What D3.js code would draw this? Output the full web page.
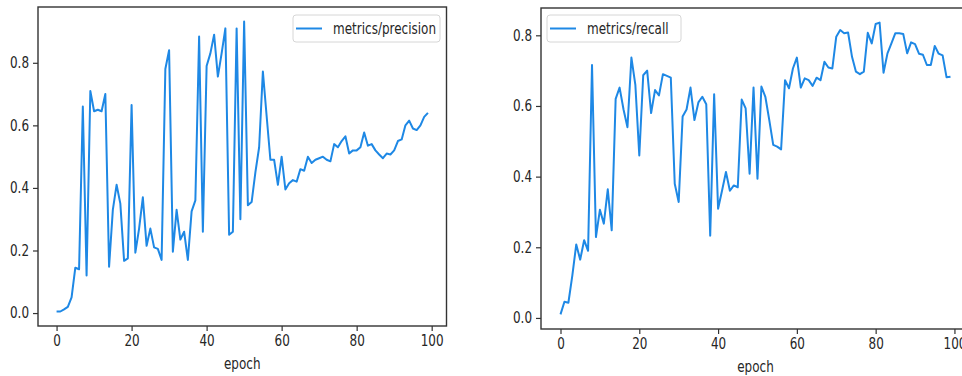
<!DOCTYPE html>
<html>
<head>
<meta charset="utf-8">
<script src="https://cdn.jsdelivr.net/npm/d3@7"></script>
<style>
  body { margin: 0; background: #fff; }
  svg { display: block; }
</style>
</head>
<body>
<div class="container"></div>
<script>
// epochs 0..99
const epochs = d3.range(100);

const precision = [
  0.005, 0.005, 0.012, 0.02, 0.05, 0.145, 0.14, 0.66, 0.12, 0.71,
  0.645, 0.65, 0.645, 0.70, 0.148, 0.33, 0.41, 0.35, 0.167, 0.175,
  0.665, 0.193, 0.27, 0.37, 0.215, 0.27, 0.21, 0.205, 0.17, 0.78,
  0.84, 0.196, 0.33, 0.235, 0.26, 0.17, 0.325, 0.36, 0.884, 0.26,
  0.79, 0.83, 0.89, 0.756, 0.83, 0.91, 0.25, 0.26, 0.91, 0.30,
  0.932, 0.345, 0.355, 0.45, 0.53, 0.772, 0.63, 0.49, 0.49, 0.41,
  0.50, 0.395, 0.415, 0.425, 0.42, 0.46, 0.455, 0.50, 0.48, 0.49,
  0.495, 0.50, 0.49, 0.485, 0.54, 0.53, 0.55, 0.565, 0.51, 0.52,
  0.52, 0.53, 0.577, 0.535, 0.54, 0.52, 0.507, 0.495, 0.51, 0.507,
  0.52, 0.55, 0.555, 0.60, 0.615, 0.59, 0.585, 0.60, 0.627, 0.64
];

const recall = [
  0.01, 0.046, 0.043, 0.12, 0.208, 0.165, 0.22, 0.19, 0.716, 0.229,
  0.306, 0.267, 0.364, 0.248, 0.62, 0.652, 0.59, 0.54, 0.737, 0.66,
  0.46, 0.687, 0.70, 0.58, 0.645, 0.63, 0.69, 0.685, 0.68, 0.38,
  0.328, 0.57, 0.59, 0.652, 0.56, 0.61, 0.626, 0.605, 0.233, 0.633,
  0.309, 0.36, 0.413, 0.36, 0.375, 0.37, 0.618, 0.593, 0.408, 0.652,
  0.394, 0.655, 0.626, 0.56, 0.49, 0.485, 0.477, 0.673, 0.65, 0.706,
  0.737, 0.652, 0.678, 0.673, 0.657, 0.68, 0.673, 0.725, 0.709, 0.706,
  0.796, 0.815, 0.806, 0.808, 0.739, 0.697, 0.69, 0.697, 0.807, 0.777,
  0.832, 0.836, 0.694, 0.749, 0.777, 0.806, 0.806, 0.804, 0.749, 0.78,
  0.775, 0.748, 0.745, 0.716, 0.716, 0.77, 0.748, 0.743, 0.681, 0.683
];

const xTicks = [0, 20, 40, 60, 80, 100];
const yTicks = [0.0, 0.2, 0.4, 0.6, 0.8];

const width = 962, height = 376;
const lineColor = '#1e88e5';
const textColor = '#262626';
const squeeze = 0.8;   // picture is squashed horizontally

const svg = d3.select('.container')
    .append('svg')
    .attr('width', width)
    .attr('height', height)
    .style('font-family', '"DejaVu Sans", sans-serif');

function panel(values, label, box, legendBox) {
    const pad = (values.length - 1) * 0.05;
    const x = d3.scaleLinear()
        .domain([-pad, values.length - 1 + pad])
        .range([box.left, box.right]);
    const ext = d3.extent(values);
    const m = (ext[1] - ext[0]) * 0.05;
    const y = d3.scaleLinear()
        .domain([ext[0] - m, ext[1] + m])
        .range([box.bottom, box.top]);

    const g = svg.append('g');

    const line = d3.line()
        .x((d, i) => x(epochs[i]))
        .y(d => y(d));

    g.append('path')
        .datum(values)
        .attr('fill', 'none')
        .attr('stroke', lineColor)
        .attr('stroke-width', 2)
        .attr('stroke-linejoin', 'round')
        .attr('d', line);

    // frame
    g.append('rect')
        .attr('x', box.left)
        .attr('y', box.top)
        .attr('width', box.right - box.left)
        .attr('height', box.bottom - box.top)
        .attr('fill', 'none')
        .attr('stroke', '#333')
        .attr('stroke-width', 1.4);

    const xAxis = g.append('g')
        .attr('transform', `translate(0,${box.bottom})`)
        .call(d3.axisBottom(x).tickValues(xTicks).tickSize(5).tickPadding(4).tickFormat(d3.format('d')));
    const yAxis = g.append('g')
        .attr('transform', `translate(${box.left},0)`)
        .call(d3.axisLeft(y).tickValues(yTicks).tickSize(5).tickPadding(4).tickFormat(d3.format('.1f')));

    [xAxis, yAxis].forEach(a => {
        a.select('.domain').remove();
        a.selectAll('line').attr('stroke', '#333').attr('stroke-width', 1.2);
        a.selectAll('text')
            .attr('fill', textColor)
            .style('font-size', '15px')
            .style('font-family', '"DejaVu Sans", sans-serif');
    });
    yAxis.selectAll('text')
        .attr('x', -9 / squeeze)
        .attr('transform', `scale(${squeeze},1)`);
    xAxis.selectAll('text')
        .attr('transform', `scale(${squeeze},1)`);

    g.append('text')
        .attr('transform', `translate(${(box.left + box.right) / 2},${box.bottom + 43}) scale(${squeeze},1)`)
        .attr('text-anchor', 'middle')
        .attr('fill', textColor)
        .style('font-size', '15px')
        .text('epoch');

    // legend
    const lg = g.append('g');
    lg.append('rect')
        .attr('x', legendBox.x)
        .attr('y', 15)
        .attr('width', legendBox.w)
        .attr('height', 27)
        .attr('rx', 3)
        .attr('fill', '#fff')
        .attr('fill-opacity', 0.85)
        .attr('stroke', '#d6d6d6');
    lg.append('line')
        .attr('x1', legendBox.x + 3)
        .attr('x2', legendBox.x + 29)
        .attr('y1', 28.5)
        .attr('y2', 28.5)
        .attr('stroke', lineColor)
        .attr('stroke-width', 2);
    lg.append('text')
        .attr('transform', `translate(${legendBox.x + 40},34) scale(${squeeze},1)`)
        .attr('fill', textColor)
        .style('font-size', '15px')
        .text(label);
}

panel(precision, 'metrics/precision',
    {left: 38, right: 446.5, top: 7, bottom: 326},
    {x: 293, w: 147});

panel(recall, 'metrics/recall',
    {left: 541, right: 970, top: 8, bottom: 329},
    {x: 547, w: 134});
</script>
</body>
</html>
